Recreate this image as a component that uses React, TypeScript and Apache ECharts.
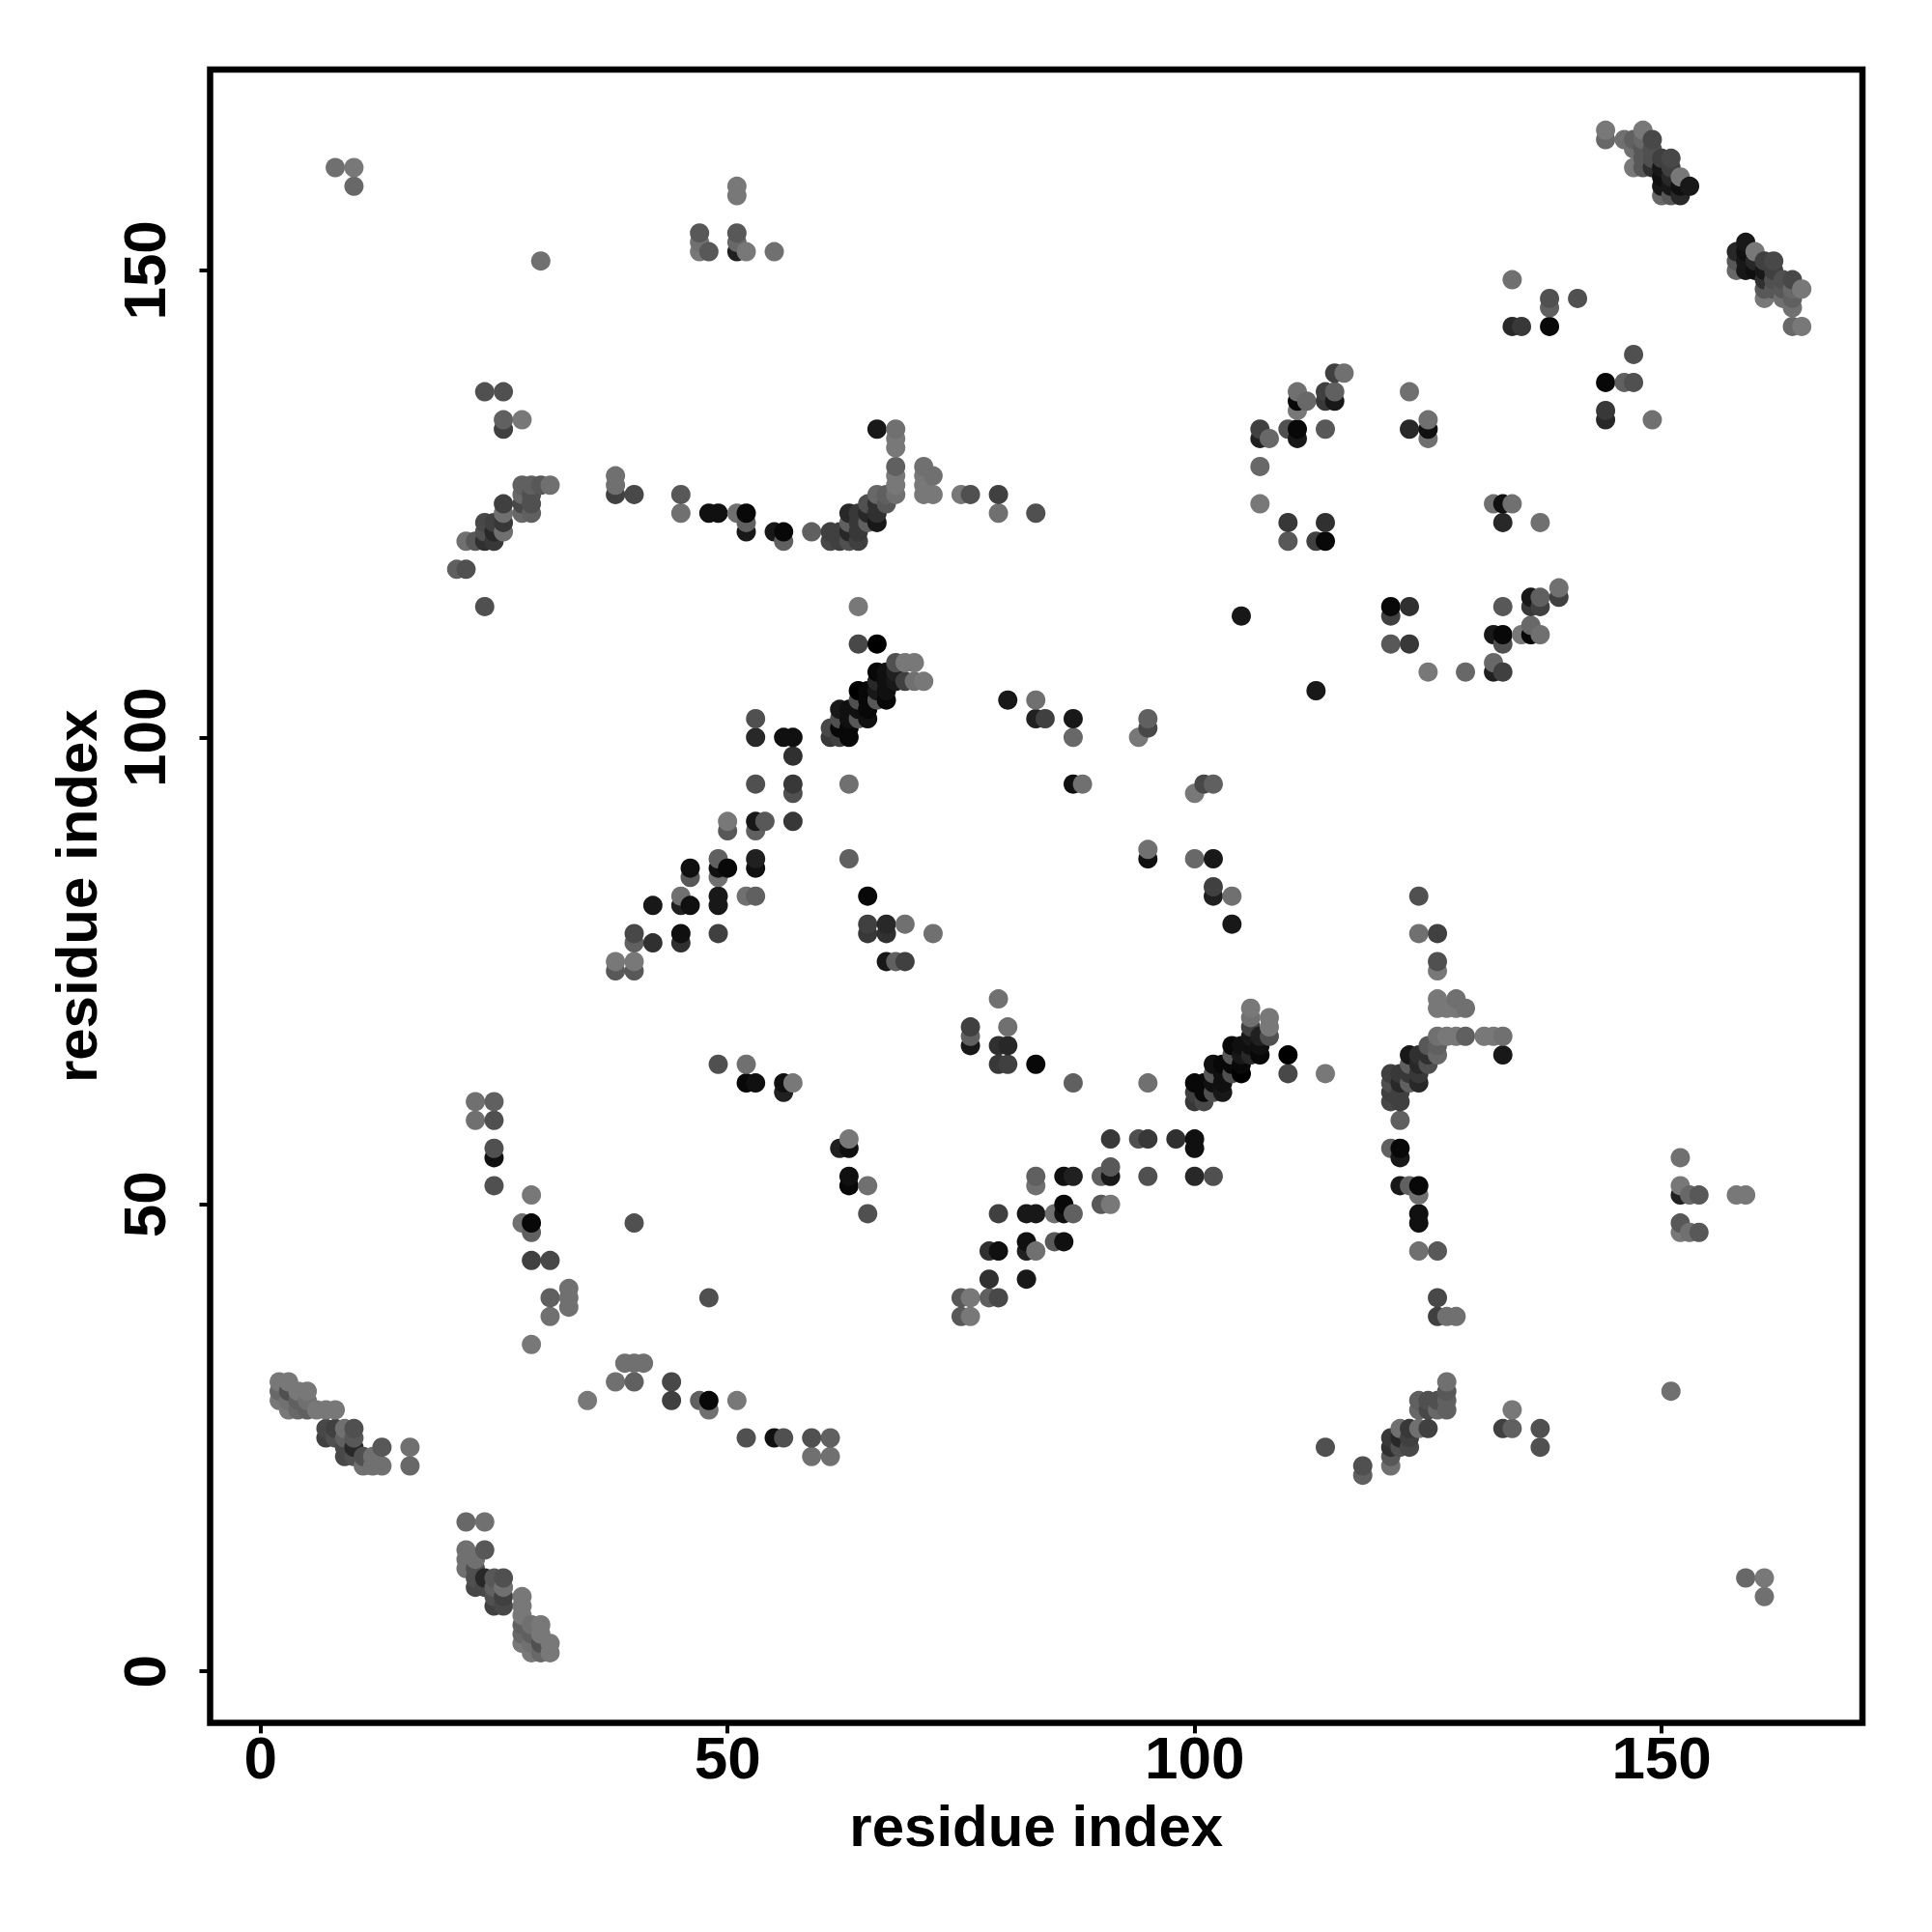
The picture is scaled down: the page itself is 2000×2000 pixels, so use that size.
import React, { useEffect, useRef } from "react";
import * as echarts from "echarts";

// Each contact: residue i, residue j (i < j), grey level. The map is symmetric, so (j, i) is drawn too.
const tickValues = [0, 50, 100, 150];
const axisName = "residue index";

const farContacts = [
  [8,161,0x70],[10,161,0x78],[10,159,0x68],[51,159,0x78],[51,158,0x78],[47,154,0x58],[47,153,0x70],[47,152,0x78],
  [48,152,0x58],[51,154,0x58],[51,153,0x68],[51,152,0x20],[52,152,0x78],[55,152,0x70],[30,151,0x70],
];

const strandA = [
  [24,137,0x50],[26,137,0x50],[26,134,0x60],[26,133,0x40],[28,134,0x78],[21,118,0x60],[22,118,0x50],[22,121,0x70],
  [23,121,0x58],[24,121,0x30],[25,121,0x38],[24,122,0x50],[25,122,0x28],[26,122,0x70],[24,123,0x48],[25,123,0x40],
  [26,123,0x38],[26,124,0x70],[26,125,0x40],[28,127,0x60],[28,126,0x68],[28,125,0x48],[28,124,0x68],[29,127,0x60],
  [29,126,0x50],[29,125,0x50],[29,124,0x60],[30,127,0x58],[31,127,0x70],[24,114,0x50],
];

const strandB = [
  [38,128,0x70],[38,127,0x70],[38,126,0x40],[40,126,0x48],[45,126,0x58],[45,124,0x70],[48,124,0x10],[49,124,0x10],
  [51,124,0x70],[52,124,0x08],[52,123,0x60],[52,122,0x18],[55,122,0x18],[56,122,0x08],[56,121,0x60],[59,122,0x60],
  [61,122,0x40],[61,121,0x48],[62,122,0x40],[62,121,0x40],[63,122,0x28],[63,121,0x50],[63,123,0x60],[63,124,0x28],
  [64,124,0x38],[64,123,0x38],[64,122,0x38],[64,121,0x40],[65,125,0x50],[65,124,0x28],[65,123,0x60],[66,126,0x68],
  [66,125,0x30],[66,124,0x30],[66,123,0x18],[67,126,0x60],[67,125,0x58],[66,133,0x18],[68,133,0x70],[68,132,0x78],
  [68,131,0x78],[68,129,0x60],[68,128,0x78],[68,127,0x78],[68,126,0x70],[71,129,0x70],[71,128,0x78],[71,127,0x78],
  [71,126,0x78],[72,128,0x70],[72,126,0x78],[75,126,0x78],[76,126,0x50],[79,126,0x40],[79,124,0x70],[83,124,0x50],
];

const helixCore = [
  [64,114,0x78],[64,110,0x48],[66,110,0x00],[68,108,0x50],[69,108,0x78],[70,108,0x78],[66,107,0x08],[67,107,0x10],
  [68,107,0x20],[66,106,0x28],[67,106,0x10],[68,106,0x18],[69,106,0x40],[70,106,0x70],[71,106,0x78],[64,105,0x00],
  [65,105,0x08],[66,105,0x18],[67,105,0x10],[64,104,0x50],[65,104,0x08],[66,104,0x58],[67,104,0x08],[62,103,0x18],
  [63,103,0x10],[64,103,0x10],[65,103,0x08],[62,102,0x50],[63,102,0x10],[64,102,0x58],[65,102,0x10],[61,101,0x48],
  [62,101,0x08],[63,101,0x08],[61,100,0x38],[62,100,0x40],[63,100,0x08],
];

const midContacts = [
  [53,102,0x50],[53,100,0x28],[56,100,0x10],[57,100,0x10],[57,98,0x30],[53,95,0x50],[57,95,0x38],[57,94,0x50],
  [63,95,0x70],[53,91,0x18],[54,91,0x58],[53,90,0x60],[50,91,0x78],[50,90,0x58],[57,91,0x38],[49,87,0x60],
  [49,86,0x10],[50,86,0x08],[53,87,0x20],[53,86,0x10],[49,85,0x70],[46,86,0x10],[46,85,0x58],[63,87,0x60],
  [45,83,0x70],[45,82,0x20],[46,82,0x10],[42,82,0x18],[49,83,0x18],[49,82,0x18],[52,83,0x70],[53,83,0x60],
  [65,83,0x08],[40,79,0x48],[40,78,0x60],[42,78,0x30],[45,79,0x10],[45,78,0x30],[49,79,0x40],[65,80,0x40],
  [65,79,0x38],[67,80,0x28],[67,79,0x30],[69,80,0x70],[72,79,0x70],[38,76,0x78],[40,76,0x78],[38,75,0x58],
  [40,75,0x58],[67,76,0x18],[68,76,0x60],[69,76,0x40],
];

const upperRight = [
  [80,104,0x18],[83,104,0x70],[83,102,0x20],[84,102,0x40],[87,102,0x18],[87,100,0x68],[95,102,0x60],[95,101,0x48],
  [94,100,0x78],[87,95,0x10],[88,95,0x70],[105,113,0x18],[107,133,0x40],[107,132,0x20],[108,132,0x68],[110,133,0x50],
  [111,133,0x08],[111,132,0x18],[111,135,0x78],[111,136,0x08],[111,137,0x70],[112,136,0x68],[114,133,0x58],
  [114,136,0x38],[114,137,0x40],[115,136,0x18],[115,137,0x60],[115,139,0x40],[116,139,0x70],[107,129,0x68],
  [107,125,0x78],[110,123,0x38],[114,123,0x30],[110,121,0x58],[113,121,0x40],[114,121,0x08],[123,137,0x70],
  [123,133,0x28],[125,134,0x70],[125,133,0x10],[125,132,0x70],[134,149,0x70],[138,147,0x50],[138,146,0x60],
  [141,147,0x50],[134,144,0x28],[135,144,0x38],[138,144,0x08],
];

const lowerLeft = [
  [49,65,0x50],[52,65,0x70],[52,63,0x08],[53,63,0x10],[56,63,0x10],[57,63,0x78],[56,62,0x20],[23,61,0x70],[25,61,0x60],
  [23,59,0x70],[25,59,0x50],[25,56,0x50],[25,55,0x10],[25,52,0x50],[29,51,0x78],[28,48,0x70],[29,48,0x08],[29,47,0x60],
  [29,44,0x40],[31,44,0x48],[31,40,0x60],[31,38,0x70],[33,41,0x70],[33,40,0x70],[33,39,0x70],[29,35,0x78],[40,48,0x50],
];

const cornerHelix = [
  [2,31,0x78],[3,31,0x78],[4,30,0x78],[5,30,0x78],[2,30,0x68],[2,29,0x78],[3,30,0x50],[3,29,0x70],[4,29,0x60],[5,29,0x70],
  [3,28,0x78],[4,28,0x68],[5,28,0x60],[6,28,0x78],[7,28,0x78],[8,28,0x78],[7,26,0x48],[8,26,0x40],[9,26,0x70],[10,26,0x50],
  [7,25,0x40],[8,25,0x50],[9,25,0x60],[10,25,0x58],[9,24,0x48],[10,24,0x28],[9,23,0x48],[10,23,0x50],[11,23,0x50],
  [13,24,0x58],[16,24,0x70],[16,22,0x68],[11,22,0x70],[12,22,0x70],[13,22,0x70],[12,23,0x70],
];

const topHelix = [
  [144,165,0x78],[144,164,0x68],[146,164,0x70],[147,164,0x60],[148,165,0x78],[148,164,0x68],[149,164,0x48],[147,163,0x70],
  [148,163,0x58],[149,163,0x50],[147,161,0x78],[148,162,0x58],[148,161,0x58],[149,162,0x50],[149,161,0x30],[150,162,0x40],
  [151,162,0x48],[150,161,0x18],[151,161,0x40],[152,160,0x78],[153,159,0x18],[150,160,0x10],[151,160,0x28],[150,159,0x18],
  [151,159,0x18],[152,159,0x10],[150,158,0x68],[151,158,0x58],[152,158,0x28],
];

const upperContacts = [
  ...farContacts, ...strandA, ...strandB, ...helixCore, ...midContacts,
  ...upperRight, ...lowerLeft, ...cornerHelix, ...topHelix,
];

const allContacts = [...upperContacts, ...upperContacts.map(([i, j, g]) => [j, i, g])].sort(
  (a, b) => a[0] - b[0] || a[1] - b[1],
);

const FONT = '"Liberation Sans", Arial, sans-serif';

export default function App() {
  const ref = useRef<HTMLDivElement>(null);
  useEffect(() => {
    const chart = echarts.init(ref.current!, null, { renderer: "svg" });
    const axisCommon = {
      type: "value",
      name: axisName,
      nameLocation: "middle",
      nameTextStyle: { fontFamily: FONT, fontWeight: "bold", fontSize: 60, color: "#000" },
      splitLine: { show: false },
      axisLine: { show: false, onZero: false },
      axisTick: {
        show: true,
        length: 11,
        lineStyle: { color: "#000", width: 4 },
        customValues: tickValues,
      },
    };
    chart.setOption({
      animation: false,
      backgroundColor: "#fff",
      grid: {
        left: 217.5,
        top: 72,
        width: 1710.5,
        height: 1711.4,
        show: true,
        borderColor: "#000",
        borderWidth: 6.5,
        backgroundColor: "transparent",
      },
      xAxis: {
        ...axisCommon,
        min: -5.4,
        max: 171.5,
        nameGap: 77,
        axisLabel: {
          customValues: tickValues,
          margin: 5,
          fontFamily: FONT,
          fontWeight: "bold",
          fontSize: 62,
          color: "#000",
        },
      },
      yAxis: {
        ...axisCommon,
        min: -5.5,
        max: 171.5,
        nameGap: 108,
        axisLabel: {
          customValues: tickValues,
          rotate: 90,
          margin: 37,
          fontFamily: FONT,
          fontWeight: "bold",
          fontSize: 62,
          color: "#000",
        },
      },
      series: [
        {
          type: "scatter",
          symbol: "circle",
          symbolSize: 20,
          data: allContacts,
          clip: false,
          itemStyle: {
            opacity: 1,
            color: (p: any) => {
              const g = p.value[2];
              return `rgb(${g},${g},${g})`;
            },
          },
        },
      ],
    });
    return () => chart.dispose();
  }, []);
  return (
    <div
      ref={ref}
      style={{ position: "absolute", left: 0, top: 0, width: 2000, height: 2000, background: "#fff" }}
    />
  );
}
